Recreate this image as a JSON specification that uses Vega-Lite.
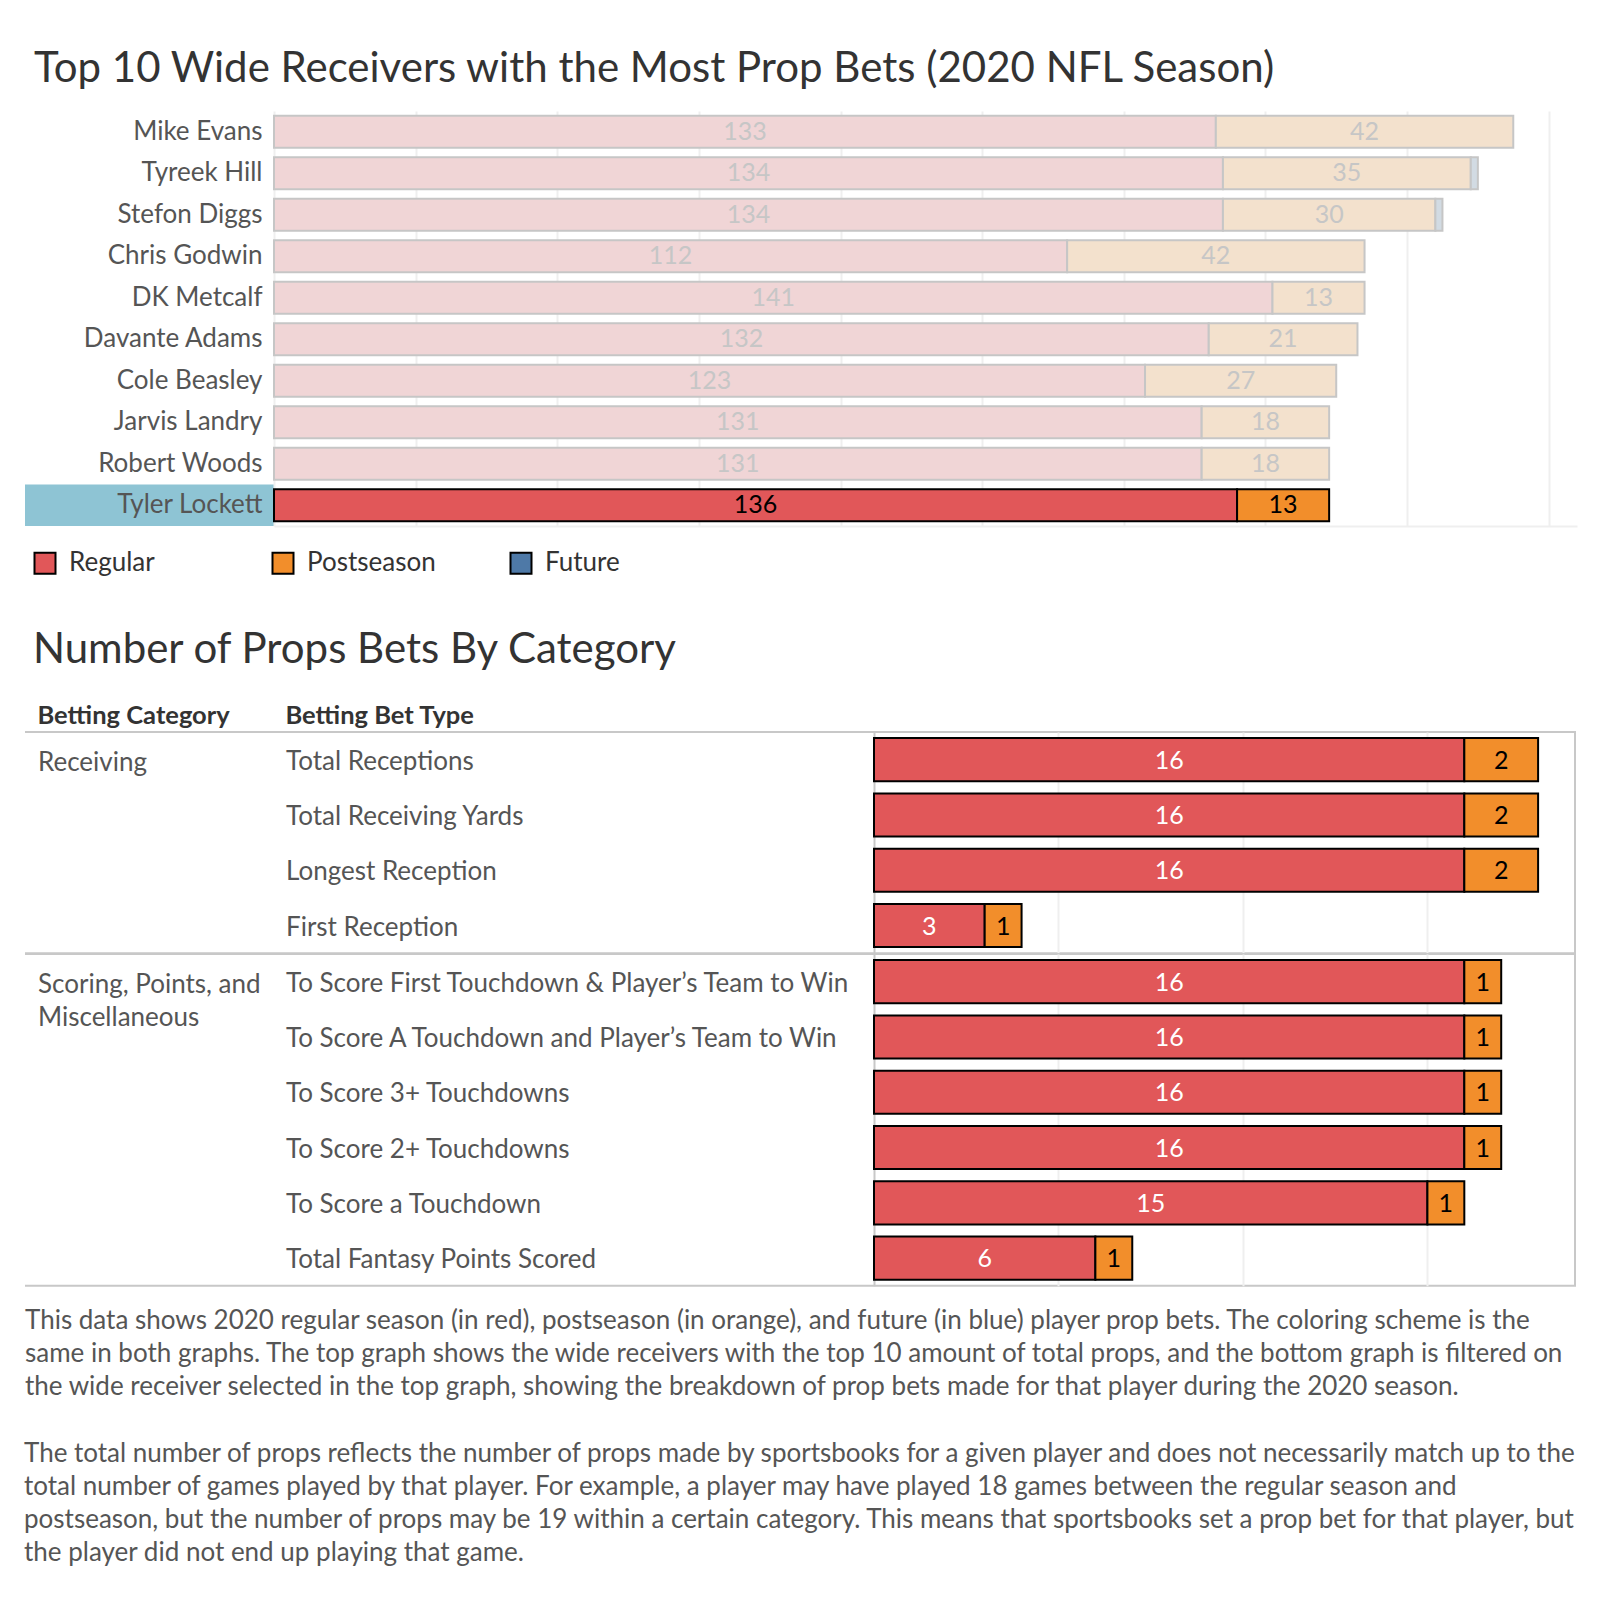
{
  "$schema": "https://vega.github.io/schema/vega-lite/v6.json",
  "background": "white",
  "padding": {"left": 24, "top": 48, "right": 0, "bottom": 0},
  "config": {
    "view": {"stroke": null},
    "font": "Lato",
    "title": {"font": "Lato", "fontWeight": "normal", "color": "#333333"}
  },
  "title": {
    "text": [
      "The total number of props reflects the number of props made by sportsbooks for a given player and does not necessarily match up to the",
      "total number of games played by that player. For example, a player may have played 18 games between the regular season and",
      "postseason, but the number of props may be 19 within a certain category. This means that sportsbooks set a prop bet for that player, but",
      "the player did not end up playing that game."
    ],
    "orient": "bottom", "anchor": "start", "baseline": "top", "offset": 40,
    "fontSize": 26, "font": "Lato", "fontWeight": "normal", "color": "#555555", "lineHeight": 33
  },
  "datasets": {
    "players": [
      {"player": "Mike Evans", "type": "Regular", "props": 133},
      {"player": "Mike Evans", "type": "Postseason", "props": 42},
      {"player": "Tyreek Hill", "type": "Regular", "props": 134},
      {"player": "Tyreek Hill", "type": "Postseason", "props": 35},
      {"player": "Tyreek Hill", "type": "Future", "props": 1},
      {"player": "Stefon Diggs", "type": "Regular", "props": 134},
      {"player": "Stefon Diggs", "type": "Postseason", "props": 30},
      {"player": "Stefon Diggs", "type": "Future", "props": 1},
      {"player": "Chris Godwin", "type": "Regular", "props": 112},
      {"player": "Chris Godwin", "type": "Postseason", "props": 42},
      {"player": "DK Metcalf", "type": "Regular", "props": 141},
      {"player": "DK Metcalf", "type": "Postseason", "props": 13},
      {"player": "Davante Adams", "type": "Regular", "props": 132},
      {"player": "Davante Adams", "type": "Postseason", "props": 21},
      {"player": "Cole Beasley", "type": "Regular", "props": 123},
      {"player": "Cole Beasley", "type": "Postseason", "props": 27},
      {"player": "Jarvis Landry", "type": "Regular", "props": 131},
      {"player": "Jarvis Landry", "type": "Postseason", "props": 18},
      {"player": "Robert Woods", "type": "Regular", "props": 131},
      {"player": "Robert Woods", "type": "Postseason", "props": 18},
      {"player": "Tyler Lockett", "type": "Regular", "props": 136},
      {"player": "Tyler Lockett", "type": "Postseason", "props": 13}
    ],
    "bets": [
      {"category": "Receiving", "bettype": "Total Receptions", "type": "Regular", "props": 16},
      {"category": "Receiving", "bettype": "Total Receptions", "type": "Postseason", "props": 2},
      {"category": "Receiving", "bettype": "Total Receiving Yards", "type": "Regular", "props": 16},
      {"category": "Receiving", "bettype": "Total Receiving Yards", "type": "Postseason", "props": 2},
      {"category": "Receiving", "bettype": "Longest Reception", "type": "Regular", "props": 16},
      {"category": "Receiving", "bettype": "Longest Reception", "type": "Postseason", "props": 2},
      {"category": "Receiving", "bettype": "First Reception", "type": "Regular", "props": 3},
      {"category": "Receiving", "bettype": "First Reception", "type": "Postseason", "props": 1},
      {"category": "Scoring, Points, and Miscellaneous", "bettype": "To Score First Touchdown & Player’s Team to Win", "type": "Regular", "props": 16},
      {"category": "Scoring, Points, and Miscellaneous", "bettype": "To Score First Touchdown & Player’s Team to Win", "type": "Postseason", "props": 1},
      {"category": "Scoring, Points, and Miscellaneous", "bettype": "To Score A Touchdown and Player’s Team to Win", "type": "Regular", "props": 16},
      {"category": "Scoring, Points, and Miscellaneous", "bettype": "To Score A Touchdown and Player’s Team to Win", "type": "Postseason", "props": 1},
      {"category": "Scoring, Points, and Miscellaneous", "bettype": "To Score 3+ Touchdowns", "type": "Regular", "props": 16},
      {"category": "Scoring, Points, and Miscellaneous", "bettype": "To Score 3+ Touchdowns", "type": "Postseason", "props": 1},
      {"category": "Scoring, Points, and Miscellaneous", "bettype": "To Score 2+ Touchdowns", "type": "Regular", "props": 16},
      {"category": "Scoring, Points, and Miscellaneous", "bettype": "To Score 2+ Touchdowns", "type": "Postseason", "props": 1},
      {"category": "Scoring, Points, and Miscellaneous", "bettype": "To Score a Touchdown", "type": "Regular", "props": 15},
      {"category": "Scoring, Points, and Miscellaneous", "bettype": "To Score a Touchdown", "type": "Postseason", "props": 1},
      {"category": "Scoring, Points, and Miscellaneous", "bettype": "Total Fantasy Points Scored", "type": "Regular", "props": 6},
      {"category": "Scoring, Points, and Miscellaneous", "bettype": "Total Fantasy Points Scored", "type": "Postseason", "props": 1}
    ],
    "headers": [
      {"header": "Betting Category"},
      {"header": "Betting Bet Type"}
    ]
  },
  "spacing": 51,
  "vconcat": [
    {
      "title": {"text": "Top 10 Wide Receivers with the Most Prop Bets (2020 NFL Season)", "anchor": "start", "dx": 9, "fontSize": 42, "offset": 20, "color": "#333333", "baseline": "top"},
      "spacing": 0,
      "bounds": "flush",
      "hconcat": [
        {
          "width": 249,
          "height": 415,
          "data": {"name": "players"},
          "transform": [{"filter": "datum.player === 'Tyler Lockett' && datum.type === 'Regular'"}],
          "mark": {"type": "rect", "fill": "#8ec4d4"},
          "encoding": {
            "y": {"field": "player", "type": "nominal",
              "scale": {"domain": ["Mike Evans", "Tyreek Hill", "Stefon Diggs", "Chris Godwin", "DK Metcalf", "Davante Adams", "Cole Beasley", "Jarvis Landry", "Robert Woods", "Tyler Lockett"], "paddingInner": 0, "paddingOuter": 0},
              "axis": null}
          }
        },
        {
          "width": 1303,
          "height": 415,
          "data": {"name": "players"},
          "encoding": {
            "y": {"field": "player", "type": "nominal",
              "sort": ["Mike Evans", "Tyreek Hill", "Stefon Diggs", "Chris Godwin", "DK Metcalf", "Davante Adams", "Cole Beasley", "Jarvis Landry", "Robert Woods", "Tyler Lockett"],
              "scale": {"paddingInner": 0.23, "paddingOuter": 0.115},
              "axis": {"title": null, "ticks": false, "domain": false, "grid": false, "labelPadding": 12, "labelFontSize": 26, "labelFont": "Lato", "labelColor": "#555555", "labelLimit": 300}}
          },
          "layer": [
            {
              "transform": [{"filter": "datum.player !== 'Tyler Lockett'"}],
              "mark": {"type": "bar", "stroke": "#c6c6c6", "strokeWidth": 2},
              "encoding": {
                "x": {"field": "props", "type": "quantitative", "stack": "zero",
                  "scale": {"domain": [0, 184], "nice": false},
                  "axis": {"title": null, "values": [0, 20, 40, 60, 80, 100, 120, 140, 160, 180], "grid": true, "gridColor": "#efefef", "gridWidth": 2, "labels": false, "ticks": false, "domain": true, "domainColor": "#efefef", "domainWidth": 2}},
                "color": {"field": "type", "type": "nominal",
                  "scale": {"domain": ["Regular", "Postseason", "Future"], "range": ["#f0d5d6", "#f3e1cd", "#d2dbe3"]},
                  "legend": null},
                "order": {"field": "type", "sort": "descending"}
              }
            },
            {
              "transform": [{"filter": "datum.player === 'Tyler Lockett'"}],
              "mark": {"type": "bar", "stroke": "#000000", "strokeWidth": 2},
              "encoding": {
                "x": {"field": "props", "type": "quantitative", "stack": "zero"},
                "color": {"field": "type", "type": "nominal",
                  "scale": {"domain": ["Regular", "Postseason", "Future"], "range": ["#e15759", "#f28e2b", "#4e79a7"]},
                  "legend": {"orient": "none", "legendX": -242, "legendY": 439, "direction": "horizontal", "title": null,
                    "symbolType": "square", "symbolSize": 441, "symbolStrokeColor": "#000000", "symbolStrokeWidth": 2,
                    "labelFontSize": 26, "labelFont": "Lato", "labelColor": "#333333", "labelOffset": 11,
                    "columnPadding": 70, "gridAlign": "all", "padding": 0}},
                "order": {"field": "type", "sort": "descending"}
              }
            },
            {
              "transform": [{"filter": "datum.type !== 'Future'"}],
              "mark": {"type": "text", "fontSize": 25, "font": "Lato", "baseline": "middle"},
              "encoding": {
                "x": {"field": "props", "type": "quantitative", "stack": "zero", "bandPosition": 0.5},
                "detail": {"field": "type"},
                "order": {"field": "type", "sort": "descending"},
                "text": {"field": "props", "type": "quantitative"},
                "color": {"condition": {"test": "datum.player === 'Tyler Lockett'", "value": "#000000"}, "value": "#c6c6c6"}
              }
            }
          ],
          "resolve": {"scale": {"color": "independent"}}
        }
      ]
    },
    {
      "title": {"text": "Number of Props Bets By Category", "anchor": "start", "dx": 9, "fontSize": 42, "offset": 20, "color": "#333333", "baseline": "top"},
      "spacing": 0,
      "bounds": "flush",
      "vconcat": [
        {
          "width": 1550,
          "height": 40,
          "data": {"name": "headers"},
          "mark": {"type": "text", "align": "left", "baseline": "alphabetic", "dy": 12, "fontSize": 25.5, "fontWeight": "bold", "color": "#333333", "font": "Lato"},
          "encoding": {
            "x": {"field": "header", "type": "nominal", "sort": null, "scale": {"type": "point", "range": [12.5, 260.5], "padding": 0}, "axis": null},
            "text": {"field": "header", "type": "nominal"}
          }
        },
        {
          "width": 1550,
          "height": {"step": 55.3},
          "view": {"stroke": "#c8c8c8", "strokeWidth": 2, "strokeDash": [3321.2, 231.2]},
          "data": {"name": "bets"},
          "transform": [{"filter": "datum.category === 'Receiving'"}],
          "encoding": {
            "y": {"field": "bettype", "type": "nominal", "sort": null,
              "scale": {"paddingInner": 0.22, "paddingOuter": 0.11},
              "axis": {"ticks": false, "domain": false, "grid": false, "labelAlign": "left", "labelPadding": -260.5, "labelBound": false, "labelOffset": 2,
                "labelFontSize": 26, "labelFont": "Lato", "labelColor": "#555555", "labelLimit": 800,
                "title": "Receiving", "titleAngle": 0, "titleAlign": "left", "titleBaseline": "top", "titleX": 12.5, "titleY": 17,
                "titleFontSize": 26, "titleFont": "Lato", "titleFontWeight": "normal", "titleColor": "#555555", "titleLineHeight": 33}}
          },
          "layer": [
            {
              "mark": {"type": "bar", "stroke": "#000000", "strokeWidth": 2},
              "encoding": {
                "x": {"field": "props", "type": "quantitative", "stack": "zero",
                  "scale": {"domain": [0, 19], "range": [849, 1550], "nice": false},
                  "axis": {"title": null, "values": [0, 5, 10, 15], "grid": true,
                    "gridColor": {"condition": {"test": "datum.value === 0", "value": "#c8c8c8"}, "value": "#efefef"},
                    "gridWidth": 2, "labels": false, "ticks": false, "domain": false}},
                "color": {"field": "type", "type": "nominal",
                  "scale": {"domain": ["Regular", "Postseason", "Future"], "range": ["#e15759", "#f28e2b", "#4e79a7"]},
                  "legend": null},
                "order": {"field": "type", "sort": "descending"}
              }
            },
            {
              "mark": {"type": "text", "fontSize": 25, "font": "Lato", "baseline": "middle", "dy": 1},
              "encoding": {
                "x": {"field": "props", "type": "quantitative", "stack": "zero", "bandPosition": 0.5},
                "detail": {"field": "type"},
                "order": {"field": "type", "sort": "descending"},
                "text": {"field": "props", "type": "quantitative"},
                "color": {"condition": {"test": "datum.type === 'Regular'", "value": "#ffffff"}, "value": "#000000"}
              }
            }
          ]
        },
        {
          "width": 1550,
          "height": {"step": 55.3},
          "view": {"stroke": "#c8c8c8", "strokeWidth": 2, "strokeDash": [3431.8, 341.8]},
          "title": {
            "text": [
              "This data shows 2020 regular season (in red), postseason (in orange), and future (in blue) player prop bets. The coloring scheme is the",
              "same in both graphs. The top graph shows the wide receivers with the top 10 amount of total props, and the bottom graph is filtered on",
              "the wide receiver selected in the top graph, showing the breakdown of prop bets made for that player during the 2020 season."
            ],
            "orient": "bottom", "anchor": "start", "baseline": "top", "offset": 22,
            "fontSize": 26, "font": "Lato", "fontWeight": "normal", "color": "#555555", "lineHeight": 33
          },
          "data": {"name": "bets"},
          "transform": [{"filter": "datum.category === 'Scoring, Points, and Miscellaneous'"}],
          "encoding": {
            "y": {"field": "bettype", "type": "nominal", "sort": null,
              "scale": {"paddingInner": 0.22, "paddingOuter": 0.11},
              "axis": {"ticks": false, "domain": false, "grid": false, "labelAlign": "left", "labelPadding": -260.5, "labelBound": false, "labelOffset": 2,
                "labelFontSize": 26, "labelFont": "Lato", "labelColor": "#555555", "labelLimit": 800,
                "title": ["Scoring, Points, and", "Miscellaneous"], "titleAngle": 0, "titleAlign": "left", "titleBaseline": "top", "titleX": 12.5, "titleY": 17,
                "titleFontSize": 26, "titleFont": "Lato", "titleFontWeight": "normal", "titleColor": "#555555", "titleLineHeight": 33}}
          },
          "layer": [
            {
              "mark": {"type": "bar", "stroke": "#000000", "strokeWidth": 2},
              "encoding": {
                "x": {"field": "props", "type": "quantitative", "stack": "zero",
                  "scale": {"domain": [0, 19], "range": [849, 1550], "nice": false},
                  "axis": {"title": null, "values": [0, 5, 10, 15], "grid": true,
                    "gridColor": {"condition": {"test": "datum.value === 0", "value": "#c8c8c8"}, "value": "#efefef"},
                    "gridWidth": 2, "labels": false, "ticks": false, "domain": false}},
                "color": {"field": "type", "type": "nominal",
                  "scale": {"domain": ["Regular", "Postseason", "Future"], "range": ["#e15759", "#f28e2b", "#4e79a7"]},
                  "legend": null},
                "order": {"field": "type", "sort": "descending"}
              }
            },
            {
              "mark": {"type": "text", "fontSize": 25, "font": "Lato", "baseline": "middle", "dy": 1},
              "encoding": {
                "x": {"field": "props", "type": "quantitative", "stack": "zero", "bandPosition": 0.5},
                "detail": {"field": "type"},
                "order": {"field": "type", "sort": "descending"},
                "text": {"field": "props", "type": "quantitative"},
                "color": {"condition": {"test": "datum.type === 'Regular'", "value": "#ffffff"}, "value": "#000000"}
              }
            }
          ]
        }
      ]
    }
  ]
}
